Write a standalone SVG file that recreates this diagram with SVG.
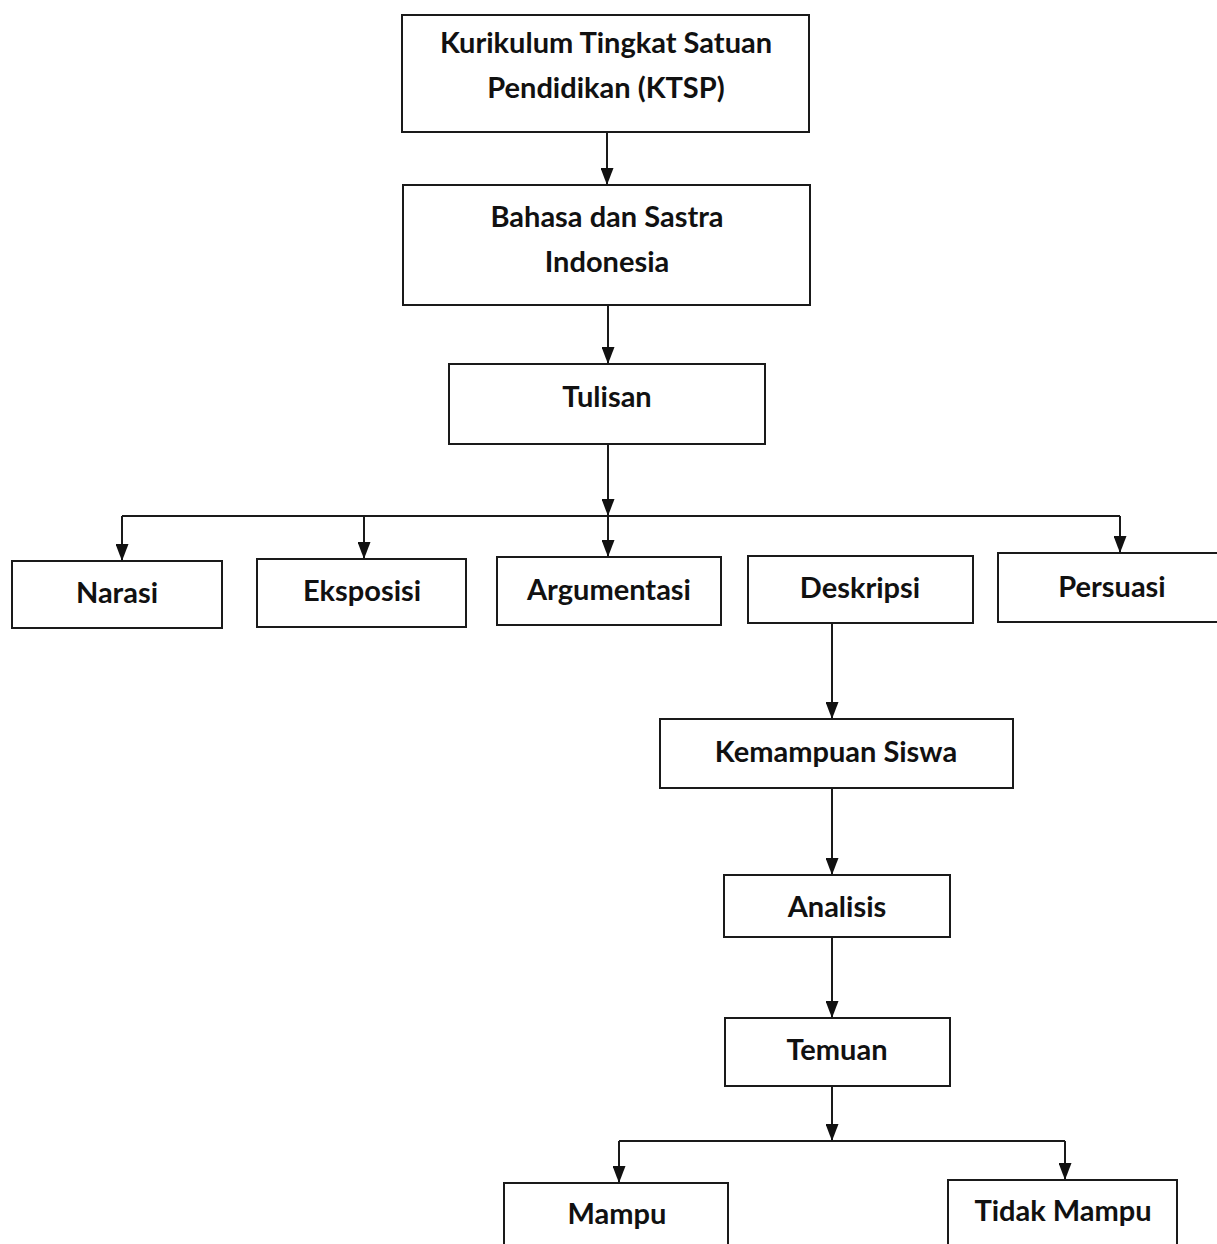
<svg xmlns="http://www.w3.org/2000/svg" width="1217" height="1244" viewBox="0 0 1217 1244">
<defs>
<marker id="ah" markerWidth="17" markerHeight="13" refX="17" refY="6.5" orient="auto" markerUnits="userSpaceOnUse" viewBox="0 0 17 13">
<path d="M0,0 L17,6.5 L0,13 Z" fill="#111"/>
</marker>
</defs>
<style>
.box{fill:#fff;stroke:#1a1a1a;stroke-width:2}
.t{font-family:Lato,"Open Sans","Liberation Sans",sans-serif;font-weight:bold;font-size:29px;fill:#111;text-anchor:middle}
.c{fill:none;stroke:#1a1a1a;stroke-width:2}
.a{marker-end:url(#ah)}
</style>
<rect width="1217" height="1244" fill="#fff"/>
<g id="connectors">
<line class="c a" x1="607" y1="132" x2="607" y2="185"/>
<line class="c a" x1="608" y1="305" x2="608" y2="364"/>
<line class="c a" x1="608" y1="444" x2="608" y2="516"/>
<line class="c" x1="122" y1="516" x2="1120" y2="516"/>
<line class="c a" x1="122" y1="516" x2="122" y2="561"/>
<line class="c a" x1="364" y1="516" x2="364" y2="559"/>
<line class="c a" x1="608" y1="516" x2="608" y2="557"/>
<line class="c a" x1="1120" y1="516" x2="1120" y2="553"/>
<line class="c a" x1="832" y1="623" x2="832" y2="719"/>
<line class="c a" x1="832" y1="788" x2="832" y2="875"/>
<line class="c a" x1="832" y1="937" x2="832" y2="1018"/>
<line class="c a" x1="832" y1="1086" x2="832" y2="1141"/>
<line class="c" x1="619" y1="1141" x2="1065" y2="1141"/>
<line class="c a" x1="619" y1="1141" x2="619" y2="1183"/>
<line class="c a" x1="1065" y1="1141" x2="1065" y2="1180"/>
</g>
<g id="ktsp"><rect class="box" x="402" y="15" width="407" height="117"/><text class="t" x="606" y="53">Kurikulum Tingkat Satuan</text><text class="t" x="606" y="98">Pendidikan (KTSP)</text></g>
<g id="bahasa"><rect class="box" x="403" y="185" width="407" height="120"/><text class="t" x="607" y="227">Bahasa dan Sastra</text><text class="t" x="607" y="272">Indonesia</text></g>
<g id="tulisan"><rect class="box" x="449" y="364" width="316" height="80"/><text class="t" x="607" y="407">Tulisan</text></g>
<g id="narasi"><rect class="box" x="12" y="561" width="210" height="67"/><text class="t" x="117" y="603">Narasi</text></g>
<g id="eksposisi"><rect class="box" x="257" y="559" width="209" height="68"/><text class="t" x="362" y="601">Eksposisi</text></g>
<g id="argumentasi"><rect class="box" x="497" y="557" width="224" height="68"/><text class="t" x="609" y="600">Argumentasi</text></g>
<g id="deskripsi"><rect class="box" x="748" y="556" width="225" height="67"/><text class="t" x="860" y="598">Deskripsi</text></g>
<g id="persuasi"><rect class="box" x="998" y="553" width="222" height="69"/><text class="t" x="1112" y="597">Persuasi</text></g>
<g id="kemampuan"><rect class="box" x="660" y="719" width="353" height="69"/><text class="t" x="836" y="762">Kemampuan Siswa</text></g>
<g id="analisis"><rect class="box" x="724" y="875" width="226" height="62"/><text class="t" x="837" y="917">Analisis</text></g>
<g id="temuan"><rect class="box" x="725" y="1018" width="225" height="68"/><text class="t" x="837" y="1060">Temuan</text></g>
<g id="mampu"><rect class="box" x="504" y="1183" width="224" height="70"/><text class="t" x="617" y="1224">Mampu</text></g>
<g id="tidakmampu"><rect class="box" x="948" y="1180" width="229" height="70"/><text class="t" x="1063" y="1221">Tidak Mampu</text></g>
</svg>
